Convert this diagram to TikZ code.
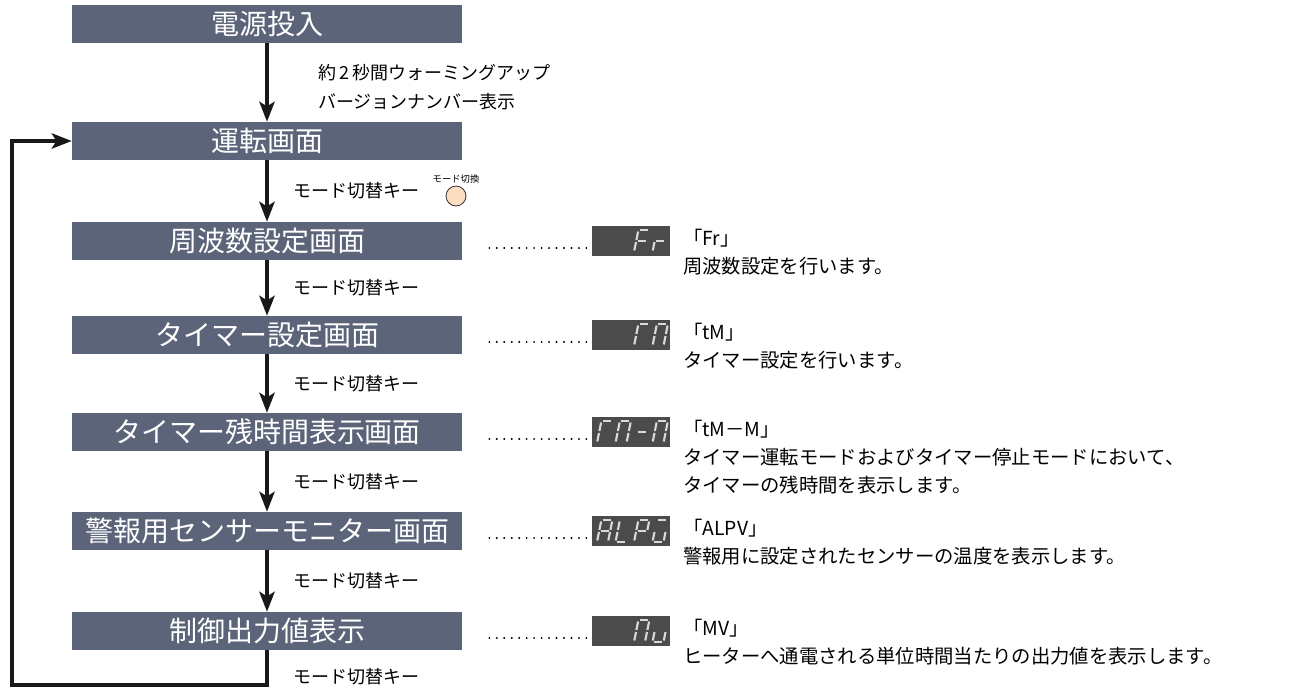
\documentclass[tikz,border=0pt]{standalone}
\usepackage{fontspec}
\setmainfont{Noto Sans CJK JP}
\usetikzlibrary{arrows.meta}

\definecolor{boxgray}{HTML}{5B6478}
\definecolor{dispgray}{HTML}{4B4B4B}
\definecolor{btnpeach}{HTML}{FCDDC2}
\definecolor{seglit}{HTML}{D9D9D9}

% seven segment pieces (local px, y down)
\newcommand{\sga}{\draw[seg] (1.5,-22) -- (9.5,-22);}
\newcommand{\sgb}{\draw[seg] (11,-20.5) -- (11,-12);}
\newcommand{\sgc}{\draw[seg] (11,-10) -- (11,-1.5);}
\newcommand{\sgd}{\draw[seg] (1.5,0) -- (9.5,0);}
\newcommand{\sge}{\draw[seg] (0,-10) -- (0,-1.5);}
\newcommand{\sgf}{\draw[seg] (0,-20.5) -- (0,-12);}
\newcommand{\sgg}{\draw[seg] (1.5,-11) -- (9.5,-11);}
\newcommand{\segdigit}[2]{\begin{scope}[shift={(#1)},xslant=.2]#2\end{scope}}

\tikzset{
  screen/.style={fill=boxgray, text=white, minimum width=292.5pt, minimum height=28.5pt,
    inner sep=0pt, font=\fontsize{21}{21}\selectfont},
  flow/.style={line width=2.6pt, draw=black!90, -{Stealth[length=15pt,width=11.5pt,inset=3.5pt]}},
  keylabel/.style={anchor=west, inner sep=0pt, font=\fontsize{13.5}{20}\selectfont},
  note/.style={anchor=north west, inner sep=0pt, align=left, font=\fontsize{14.5}{21}\selectfont},
  disp/.style={fill=dispgray, minimum width=59pt, minimum height=22.5pt, inner sep=0pt},
  leader/.style={line width=1.6pt, line cap=round, dash pattern=on 0pt off 5.6pt},
  seg/.style={draw=seglit, line width=1.6pt},
  btn/.style={circle, draw=black!80, fill=btnpeach, line width=0.6pt, minimum size=15pt, inner sep=0pt}
}

\begin{document}
\begin{tikzpicture}[x=0.75pt, y=-0.75pt]
\useasboundingbox (0,0) rectangle (1303,690);

% screens
\node[screen] (b1) at (267,24) {電源投入};
\node[screen] (b2) at (267,141) {運転画面};
\node[screen] (b3) at (267,241) {周波数設定画面};
\node[screen] (b4) at (267,335) {タイマー設定画面};
\node[screen] (b5) at (267,432) {タイマー残時間表示画面};
\node[screen] (b6) at (267,531) {警報用センサーモニター画面};
\node[screen] (b7) at (267,631) {制御出力値表示};

% flow
\draw[flow] (b1) -- (b2);
\draw[flow] (b2) -- (b3);
\draw[flow] (b3) -- (b4);
\draw[flow] (b4) -- (b5);
\draw[flow] (b5) -- (b6);
\draw[flow] (b6) -- (b7);
\coordinate (loopbl) at (12,685);
\draw[flow] (b7.south) |- (loopbl) |- (b2.west);

% key labels
\node[keylabel, anchor=north west, align=left, font=\fontsize{13.5}{22}\selectfont] (k1) at (318,64) {約\,2\,秒間ウォーミングアップ\\バージョンナンバー表示};
\node[keylabel] (k2) at (293,191) {モード切替キー};
\node[keylabel] (k3) at (293,288) {モード切替キー};
\node[keylabel] (k4) at (293,384) {モード切替キー};
\node[keylabel] (k5) at (293,482) {モード切替キー};
\node[keylabel] (k6) at (293,581) {モード切替キー};
\node[keylabel] (k7) at (293,677) {モード切替キー};

% mode button
\node[btn] (btn) at (456,196) {};
\node[inner sep=0pt, font=\fontsize{7}{7}\selectfont, above=1.5pt] (btnl) at (btn.north) {モード切換};

% displays
\node[disp] (d3) at (631,241) {};
\node[disp] (d4) at (631,335) {};
\node[disp] (d5) at (631,432) {};
\node[disp] (d6) at (631,531) {};
\node[disp] (d7) at (631,631) {};
\foreach \d in {d3,d4,d5,d6,d7}
  \draw[leader] ([shift={(-5,7)}]\d.west) -- ++(-104,0);

\segdigit{634,252}{\sga\sgf\sge\sgg}
\segdigit{652.5,252}{\sge\sgg}
\segdigit{634,346}{\sga\sgf\sge}
\segdigit{652.5,346}{\sga\sgb\sgc\sge\sgf}
\segdigit{597,443}{\sga\sgf\sge}
\segdigit{615.5,443}{\sga\sgb\sgc\sge\sgf}
\segdigit{634,443}{\sgg}
\segdigit{652.5,443}{\sga\sgb\sgc\sge\sgf}
\segdigit{597,542}{\sga\sgb\sgc\sge\sgf\sgg}
\segdigit{615.5,542}{\sgd\sge\sgf}
\segdigit{634,542}{\sga\sgb\sge\sgf\sgg}
\segdigit{652.5,542}{\sga\sgc\sgd\sge}
\segdigit{634,642}{\sga\sgb\sgc\sge\sgf}
\segdigit{652.5,642}{\sgc\sgd\sge}

% notes
\node[note] (t3) at (683,229) {「Fr」\\周波数設定を行います。};
\node[note] (t4) at (683,323) {「tM」\\タイマー設定を行います。};
\node[note] (t5) at (683,420) {「tM－M」\\タイマー運転モードおよびタイマー停止モードにおいて、\\タイマーの残時間を表示します。};
\node[note] (t6) at (683,519) {「ALPV」\\警報用に設定されたセンサーの温度を表示します。};
\node[note] (t7) at (683,619) {「MV」\\ヒーターへ通電される単位時間当たりの出力値を表示します。};
\end{tikzpicture}
\end{document}
